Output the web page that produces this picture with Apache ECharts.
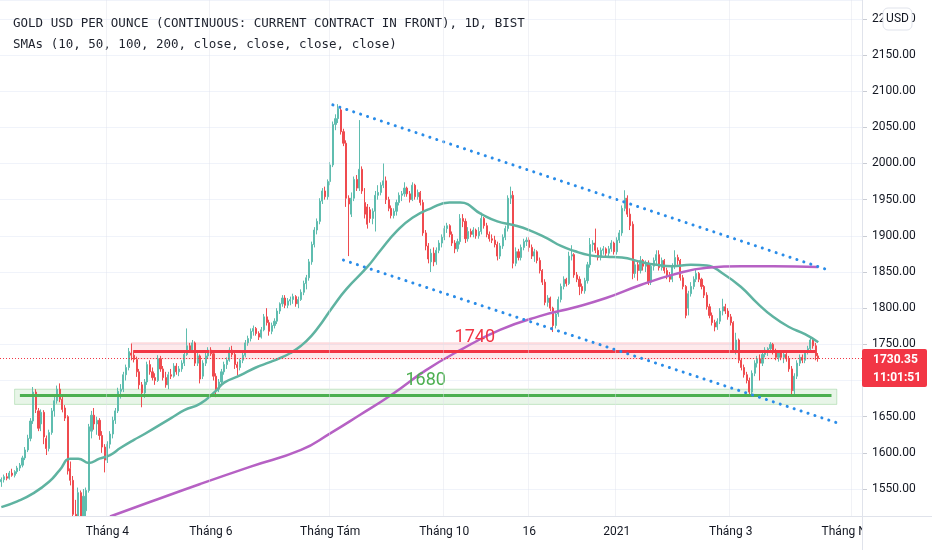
<!DOCTYPE html>
<html>
<head>
<meta charset="utf-8">
<title>Gold daily</title>
<script src="https://cdn.jsdelivr.net/npm/echarts@6.0.0/dist/echarts.min.js"></script>
<style>
  html, body { margin: 0; padding: 0; background: #fff; }
  #main { width: 932px; height: 550px; }
</style>
</head>
<body>
<div id="main"></div>
<script>
// daily bars (index = bar number from the left)
var opens = [
  1560,1563,1567,1565,1572,1569,1574,1579,1583,1593,
  1604,1620,1644,1684,1658,1640,1656,1620,1606,1628,
  1658,1672,1688,1674,1662,1650,1578,1562,1515,1485,
  1545,1482,1520,1548,1630,1652,1640,1645,1624,1608,
  1590,1612,1626,1645,1658,1685,1688,1708,1718,1738,
  1735,1729,1712,1694,1683,1698,1722,1712,1704,1700,
  1730,1716,1704,1694,1708,1706,1720,1712,1716,1724,
  1736,1748,1742,1752,1724,1734,1706,1724,1734,1742,
  1737,1706,1688,1698,1712,1722,1728,1742,1736,1722,
  1718,1728,1735,1752,1758,1768,1772,1765,1760,1770,
  1788,1780,1768,1776,1782,1796,1806,1814,1804,1810,
  1812,1816,1806,1812,1822,1834,1842,1864,1888,1908,
  1920,1948,1962,1954,1975,1998,2054,2062,2074,2044,
  2028,1952,1930,1952,1978,1966,1992,1946,1940,1936,
  1924,1934,1956,1960,1970,1976,1950,1938,1928,1934,
  1946,1956,1958,1966,1958,1950,1970,1954,1960,1946,
  1904,1886,1864,1876,1864,1880,1890,1898,1910,1914,
  1902,1890,1882,1892,1924,1920,1896,1906,1902,1908,
  1900,1906,1924,1914,1902,1896,1894,1888,1872,1886,
  1898,1910,1952,1956,1862,1878,1870,1884,1892,1894,
  1884,1872,1878,1866,1852,1836,1808,1814,1800,1776,
  1792,1812,1830,1840,1834,1872,1874,1846,1840,1830,
  1824,1838,1860,1888,1890,1880,1870,1880,1882,1876,
  1882,1890,1878,1894,1904,1938,1952,1930,1916,1848,
  1860,1852,1866,1858,1862,1836,1858,1866,1874,1856,
  1866,1852,1846,1840,1858,1870,1866,1842,1830,1800,
  1820,1830,1840,1848,1840,1830,1818,1802,1790,1780,
  1774,1782,1796,1802,1796,1788,1780,1742,1756,1728,
  1718,1708,1700,1684,1710,1724,1730,1724,1736,1742,
  1744,1750,1740,1732,1738,1732,1736,1730,1716,1686,
  1706,1724,1732,1728,1740,1744,1756,1748,1734
];
var highs = [
  1566,1570,1572,1575,1578,1576,1582,1586,1596,1608,
  1625,1648,1691,1688,1662,1660,1659,1624,1632,1662,
  1680,1693,1696,1680,1666,1652,1588,1568,1535,1552,
  1548,1550,1552,1640,1658,1662,1650,1648,1630,1612,
  1616,1630,1650,1662,1690,1695,1712,1722,1745,1751,
  1742,1733,1716,1698,1702,1726,1728,1718,1710,1735,
  1734,1720,1712,1712,1716,1724,1724,1720,1728,1740,
  1772,1752,1756,1754,1738,1736,1728,1738,1746,1746,
  1740,1710,1702,1716,1726,1732,1746,1748,1738,1726,
  1730,1738,1756,1762,1772,1776,1774,1768,1774,1792,
  1800,1784,1780,1786,1800,1808,1818,1818,1814,1816,
  1820,1818,1816,1826,1838,1846,1868,1892,1912,1924,
  1952,1966,1968,1978,2002,2058,2068,2082,2078,2048,
  2032,1956,1960,1982,1984,2060,1996,1966,1944,1940,
  1938,1962,1970,1974,2000,1982,1954,1942,1938,1950,
  1960,1962,1974,1968,1962,1974,1972,1964,1962,1950,
  1908,1890,1882,1884,1884,1894,1902,1914,1918,1916,
  1906,1894,1896,1930,1930,1924,1912,1910,1912,1910,
  1912,1932,1926,1918,1906,1902,1900,1892,1890,1902,
  1914,1956,1968,1962,1884,1882,1888,1896,1898,1898,
  1888,1882,1880,1870,1854,1840,1818,1816,1802,1796,
  1816,1834,1844,1842,1878,1887,1876,1850,1844,1834,
  1842,1864,1897,1894,1910,1884,1884,1886,1884,1886,
  1894,1892,1898,1908,1942,1963,1956,1938,1920,1866,
  1864,1872,1868,1866,1866,1862,1870,1880,1880,1870,
  1868,1856,1850,1862,1880,1874,1868,1846,1832,1824,
  1836,1844,1854,1850,1842,1832,1822,1806,1794,1784,
  1786,1800,1813,1806,1800,1792,1782,1766,1758,1730,
  1722,1712,1704,1714,1728,1734,1736,1740,1746,1746,
  1753,1752,1744,1742,1742,1738,1740,1734,1720,1710,
  1728,1736,1736,1742,1748,1760,1758,1752,1738
];
var lows = [
  1553,1559,1562,1563,1567,1566,1571,1575,1580,1590,
  1601,1616,1640,1655,1630,1630,1612,1597,1602,1625,
  1650,1668,1670,1656,1644,1570,1555,1505,1475,1470,
  1475,1470,1505,1545,1620,1632,1625,1618,1600,1573,
  1586,1606,1620,1640,1655,1675,1684,1700,1714,1728,
  1725,1705,1688,1663,1676,1694,1708,1700,1694,1698,
  1712,1700,1690,1688,1702,1704,1708,1706,1712,1720,
  1734,1738,1740,1720,1720,1696,1702,1720,1730,1734,
  1700,1677,1684,1694,1708,1716,1726,1732,1716,1707,
  1714,1724,1732,1748,1754,1762,1762,1756,1758,1768,
  1776,1762,1764,1772,1778,1792,1802,1800,1800,1804,
  1806,1802,1800,1810,1818,1826,1838,1860,1884,1902,
  1916,1944,1950,1950,1970,1995,2046,2056,2040,2024,
  1940,1872,1926,1948,1962,1962,1958,1924,1910,1918,
  1916,1906,1950,1956,1966,1944,1934,1924,1924,1928,
  1942,1948,1954,1954,1946,1948,1950,1950,1942,1900,
  1880,1862,1850,1858,1860,1876,1884,1894,1904,1898,
  1886,1876,1878,1888,1912,1890,1892,1898,1898,1896,
  1896,1902,1910,1898,1892,1890,1884,1866,1868,1882,
  1894,1906,1944,1855,1858,1866,1866,1880,1886,1878,
  1868,1864,1862,1848,1832,1804,1802,1796,1767,1772,
  1788,1808,1826,1830,1832,1866,1842,1836,1818,1820,
  1820,1834,1856,1878,1876,1866,1866,1874,1872,1872,
  1878,1874,1874,1890,1900,1934,1926,1908,1840,1842,
  1838,1848,1852,1850,1832,1832,1852,1860,1852,1852,
  1848,1840,1836,1836,1854,1860,1838,1826,1786,1790,
  1816,1826,1836,1836,1826,1814,1798,1786,1776,1768,
  1770,1778,1790,1792,1784,1776,1738,1736,1724,1714,
  1704,1696,1678,1680,1706,1718,1700,1720,1732,1734,
  1738,1736,1728,1726,1728,1724,1726,1712,1680,1680,
  1702,1720,1724,1724,1736,1740,1744,1728,1726
];
var closes = [
  1563,1567,1565,1572,1569,1574,1579,1583,1593,1604,
  1620,1644,1684,1660,1634,1656,1622,1606,1628,1658,
  1672,1688,1674,1660,1648,1575,1562,1515,1485,1545,
  1482,1540,1548,1636,1652,1640,1645,1624,1608,1590,
  1612,1626,1645,1658,1685,1688,1708,1718,1740,1735,
  1729,1712,1694,1683,1698,1722,1712,1704,1700,1730,
  1716,1704,1694,1708,1706,1720,1712,1716,1724,1736,
  1748,1742,1752,1724,1734,1702,1724,1734,1742,1737,
  1706,1688,1698,1712,1722,1728,1742,1736,1722,1718,
  1728,1735,1752,1758,1768,1772,1765,1760,1770,1788,
  1780,1768,1776,1782,1796,1806,1814,1804,1810,1812,
  1816,1806,1812,1822,1834,1842,1864,1888,1908,1920,
  1948,1962,1954,1975,1998,2054,2062,2076,2044,2028,
  1952,1944,1952,1978,1966,1992,1962,1930,1916,1924,
  1934,1956,1960,1970,1976,1950,1938,1928,1934,1946,
  1956,1958,1966,1958,1950,1970,1954,1960,1946,1904,
  1886,1868,1876,1864,1880,1890,1898,1910,1914,1902,
  1890,1882,1892,1924,1920,1896,1906,1902,1908,1900,
  1906,1924,1914,1902,1896,1894,1888,1872,1886,1898,
  1910,1952,1956,1862,1878,1870,1884,1892,1894,1884,
  1872,1878,1866,1852,1836,1808,1814,1800,1776,1792,
  1812,1830,1840,1834,1872,1874,1846,1840,1830,1824,
  1838,1860,1888,1890,1880,1870,1880,1882,1876,1882,
  1890,1878,1894,1904,1938,1952,1930,1914,1848,1860,
  1852,1866,1858,1862,1836,1858,1866,1874,1856,1866,
  1852,1846,1840,1858,1870,1866,1842,1830,1790,1820,
  1830,1840,1848,1840,1830,1818,1802,1790,1780,1774,
  1782,1796,1802,1796,1788,1780,1742,1756,1728,1718,
  1708,1700,1684,1710,1724,1730,1724,1736,1742,1744,
  1750,1740,1732,1738,1732,1736,1730,1716,1686,1706,
  1724,1732,1728,1740,1744,1756,1748,1734,1730.35
];

// moving averages: bar index -> value
var sma50Idx = [0,6,12,18,22,26,29,33,37,41,45,50,54,64,69,75,81,84,90,96,101,105,109,113,117,121,125,130,138,143,149,155,162,169,173,181,187,193,199,206,211,216,222,228,234,241,247,253,260,266,272,279,285,291,297,303,308];
var sma50Val = [1525,1533,1544,1560,1576,1592,1592,1586,1592,1597,1607,1618,1626,1648,1659,1668,1686,1697,1707,1718,1725,1731,1738,1748,1762,1781,1802,1826,1857,1880,1906,1925,1938,1946,1946,1930,1920,1915,1908,1896,1886,1879,1873,1871,1870,1864,1860,1858,1860,1859,1848,1829,1807,1788,1774,1764,1753];
var sma200Idx = [41,56,75,94,113,124,135,147,160,173,188,203,216,228,241,253,266,279,291,308];
var sma200Val = [1512,1532,1557,1581,1604,1627,1652,1680,1714,1742,1770,1789,1801,1814,1832,1846,1856,1858,1858,1857];

// drawings: [price, band low, band high], spans in bar index
var resistance = [1740, 1730, 1752];
var resistanceLine = [50, 307];
var resistanceBand = [49, 307];
var support = [1680, 1667, 1688];
var supportLine = [7, 313];
var supportBand = [5, 315];
var upperTrend = [[125, 2081], [311, 1853.7]];
var lowerTrend = [[129, 1866.5], [315, 1641.6]];

// bottom axis labels (bar index -> text)
var tickIdx = [40, 79, 124, 167, 199, 232, 275, 321];
var tickText = ['Tháng 4', 'Tháng 6', 'Tháng Tám', 'Tháng 10', '16', '2021', 'Tháng 3', 'Tháng Năm'];

var holidays = ['2020-04-10','2020-05-25','2020-07-03','2020-09-07','2020-11-26','2020-12-25','2021-01-01','2021-01-18','2021-02-15','2021-04-02'];
var totalBars = 325;

function pad(n) { return n < 10 ? '0' + n : '' + n; }

function build_dates() {
  var out = [];
  var d = new Date(Date.UTC(2020, 1, 4));
  while (out.length < totalBars) {
    var s = d.getUTCFullYear() + '-' + pad(d.getUTCMonth() + 1) + '-' + pad(d.getUTCDate());
    var wd = d.getUTCDay();
    if (wd !== 0 && wd !== 6 && holidays.indexOf(s) < 0) out.push(s);
    d.setUTCDate(d.getUTCDate() + 1);
  }
  return out;
}

function pairs(idx, vals) {
  var out = [];
  for (var i = 0; i < idx.length; i++) out.push([idx[i], vals[i]]);
  return out;
}

var dates = build_dates();
var ohlc = [];
for (var i = 0; i < closes.length; i++) {
  ohlc.push([opens[i], closes[i], lows[i], highs[i]]);
}
var lastClose = closes[closes.length - 1];

var upColor = '#5fbdaf', downColor = '#ef4b4f';
var mono = 'DejaVu Sans Mono';

function hline(price, span, color, label) {
  return {
    type: 'line', data: [], z: 5, silent: true,
    markLine: {
      symbol: ['none', 'none'], silent: true, animation: false,
      lineStyle: { color: color, width: 3, type: 'solid' },
      label: { show: true, position: 'insideMiddleTop', formatter: label, color: color, fontSize: 18, fontFamily: 'Roboto', distance: 5 },
      data: [[{ coord: [span[0], price] }, { coord: [span[1], price] }]]
    }
  };
}

function band(range, span, fill, border) {
  return {
    type: 'line', data: [], z: 4, silent: true,
    markArea: {
      silent: true,
      itemStyle: { color: fill, borderColor: border, borderWidth: 1 },
      data: [[{ coord: [span[0], range[2]] }, { coord: [span[1], range[1]] }]]
    }
  };
}

function trend(pts) {
  return {
    type: 'line', data: pts, z: 6, silent: true, showSymbol: false,
    lineStyle: { color: '#2a8ce8', width: 3, type: [0.1, 7.2], cap: 'round' }
  };
}

function sma(name, idx, vals, color) {
  return {
    type: 'line', name: name, data: pairs(idx, vals), z: 3,
    smooth: 0.5, showSymbol: false, silent: true, clip: true,
    lineStyle: { color: color, width: 2.5 }
  };
}

var chart = echarts.init(document.getElementById('main'));
var option = {
  animation: false,
  backgroundColor: '#ffffff',
  title: {
    left: 8, top: 12, itemGap: 8,
    text: 'GOLD USD PER OUNCE (CONTINUOUS: CURRENT CONTRACT IN FRONT), 1D, BIST',
    subtext: 'SMAs (10, 50, 100, 200, close, close, close, close)',
    textStyle: { fontFamily: mono, fontSize: 12.5, fontWeight: 'normal', color: '#1e222d' },
    subtextStyle: { fontFamily: mono, fontSize: 12.5, color: '#1e222d' }
  },
  grid: { left: 0, right: 70, top: 0, bottom: 34 },
  xAxis: {
    type: 'category', data: dates, boundaryGap: true, z: 95,
    axisLine: { lineStyle: { color: '#e0e3eb' } },
    axisTick: { show: false },
    axisLabel: {
      color: '#131722', fontSize: 12, fontFamily: 'Roboto', margin: 10,
      interval: function (idx) { return tickIdx.indexOf(idx) >= 0; },
      formatter: function (v, idx) { var k = tickIdx.indexOf(idx); return k >= 0 ? tickText[k] : ''; }
    },
    splitLine: {
      show: true,
      interval: function (idx) { return tickIdx.indexOf(idx) >= 0; },
      lineStyle: { color: 'rgba(224,227,235,0.45)' }
    }
  },
  yAxis: {
    type: 'value', position: 'right', min: 1512.7, max: 2226,
    minInterval: 50, maxInterval: 50, splitNumber: 14,
    axisLine: { show: true, lineStyle: { color: '#e0e3eb' } },
    axisTick: { show: true, length: 5, lineStyle: { color: '#c9ccd4' } },
    axisLabel: {
      color: '#131722', fontSize: 12, fontFamily: 'Roboto', margin: 10,
      showMinLabel: false, showMaxLabel: false,
      formatter: function (v) { return v.toFixed(2); }
    },
    splitLine: { lineStyle: { color: '#f0f3fa' } }
  },
  series: [
    band(resistance, resistanceBand, 'rgba(242,54,69,0.11)', 'rgba(242,54,69,0.22)'),
    band(support, supportBand, 'rgba(76,175,80,0.13)', 'rgba(76,175,80,0.28)'),
    {
      type: 'candlestick', name: 'GC', data: ohlc, z: 2, barWidth: 1.6, clip: true,
      itemStyle: { color: upColor, color0: downColor, borderColor: upColor, borderColor0: downColor, borderWidth: 1 },
      markLine: {
        symbol: ['none', 'none'], silent: true, label: { show: false },
        lineStyle: { color: '#f23645', width: 1, type: [1, 2] },
        data: [{ yAxis: lastClose }]
      }
    },
    sma('SMA 50', sma50Idx, sma50Val, '#5fb3a1'),
    sma('SMA 200', sma200Idx, sma200Val, '#b661c4'),
    hline(resistance[0], resistanceLine, '#f23645', '1740'),
    hline(support[0], supportLine, '#4caf50', '1680'),
    trend(upperTrend),
    trend(lowerTrend)
  ]
};
chart.setOption(option);

// price scale overlays: clip under the plot, cut the last date label, USD badge, last price tag
var py = chart.convertToPixel({ yAxisIndex: 0 }, lastClose);
chart.setOption({
  graphic: [
    { type: 'rect', z: 90, shape: { x: 0, y: 516.5, width: 862, height: 34 }, style: { fill: '#ffffff' } },
    { type: 'rect', z: 100, shape: { x: 862.5, y: 517, width: 70, height: 33 }, style: { fill: '#ffffff' } },
    { type: 'line', z: 101, shape: { x1: 862.5, y1: 0, x2: 862.5, y2: 550 }, style: { stroke: '#e0e3eb', lineWidth: 1 } },
    { type: 'line', z: 101, shape: { x1: 0, y1: 516.5, x2: 932, y2: 516.5 }, style: { stroke: '#e0e3eb', lineWidth: 1 } },
    { type: 'rect', z: 102, shape: { x: 862, y: py - 9.5, width: 65, height: 38, r: 2 }, style: { fill: '#f23645' } },
    { type: 'text', z: 103, x: 873, y: py + 1, style: { text: lastClose.toFixed(2), fill: '#ffffff', font: 'bold 12px Roboto', verticalAlign: 'middle' } },
    { type: 'text', z: 103, x: 873, y: py + 19, style: { text: '11:01:51', fill: '#ffffff', font: 'bold 12px Roboto', verticalAlign: 'middle' } },
    { type: 'rect', z: 103, shape: { x: 883, y: 8, width: 29, height: 22, r: 5 }, style: { fill: '#ffffff', stroke: '#e0e3eb', lineWidth: 1 } },
    { type: 'text', z: 104, x: 897.5, y: 19, style: { text: 'USD', fill: '#131722', font: '12px Roboto', align: 'center', verticalAlign: 'middle' } }
  ]
});
</script>
</body>
</html>
